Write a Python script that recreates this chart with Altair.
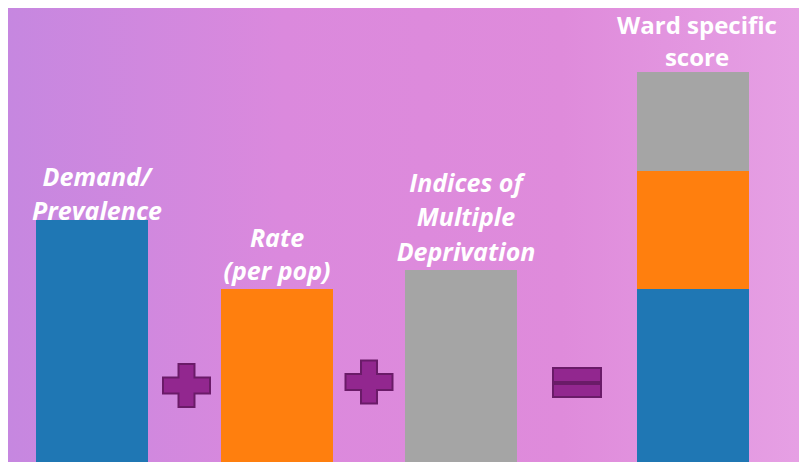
import altair as alt
import pandas as pd

# ---- data (units = pixels of the reference) ----
bar_component = ["Demand", "Rate", "IMD", "Demand", "Rate", "IMD"]
bar_group     = ["g1", "g2", "g3", "g4", "g4", "g4"]
bar_center    = [84, 269, 453, 685, 685, 685]
bar_value     = [242, 173, 192, 173, 118, 99]
bar_order     = [0, 0, 0, 0, 1, 2]

label_lines   = ["Demand/", "Prevalence", "Rate", "(per pop)",
                 "Indices of", "Multiple", "Deprivation"]
label_x       = [89, 89, 269, 269, 458, 458, 458]
label_y       = [276, 242, 215, 182, 270, 236, 201]

title_lines   = ["Ward specific", "score"]
title_x       = [689, 689]
title_y       = [428, 396]

plus_x = [178.5, 361]
plus_y = [76.5, 80]

eq_x  = [545, 545]
eq_x2 = [593, 593]
eq_y  = [94, 78]
eq_y2 = [80, 65]

W, H = 791, 454
comp_domain = ["Demand", "Rate", "IMD"]
comp_range = ["#1F77B4", "#FF7F0E", "#A5A5A5"]

xs = alt.Scale(domain=[0, W], nice=False, zero=False, padding=0)
ys = alt.Scale(domain=[0, H], nice=False, zero=False, padding=0)

bars_df = pd.DataFrame(dict(component=bar_component, group=bar_group, center=bar_center,
                            value=bar_value, order=bar_order))
labels_df = pd.DataFrame(dict(text=label_lines, x=label_x, y=label_y))
titles_df = pd.DataFrame(dict(text=title_lines, x=title_x, y=title_y))
plus_df = pd.DataFrame(dict(x=plus_x, y=plus_y))
eq_df = pd.DataFrame(dict(x=eq_x, x2=eq_x2, y=eq_y, y2=eq_y2))

grad = alt.Gradient(
    gradient="linear",
    stops=[alt.GradientStop(color="#C687E0", offset=0),
           alt.GradientStop(color="#DB89DD", offset=0.35),
           alt.GradientStop(color="#DF8BDB", offset=0.7),
           alt.GradientStop(color="#E6A0E4", offset=1)],
    x1=0, x2=1, y1=0, y2=0)

bg = alt.Chart(pd.DataFrame({"a": [0]})).mark_rect(fill=grad).encode(
    x=alt.value(0), x2=alt.value(W), y=alt.value(0), y2=alt.value(H))

bars = alt.Chart(bars_df).mark_bar(size=112).encode(
    x=alt.X("center:Q", scale=xs, axis=None),
    y=alt.Y("sum(value):Q", scale=ys, axis=None, stack="zero"),
    color=alt.Color("component:N", scale=alt.Scale(domain=comp_domain, range=comp_range), legend=None),
    order=alt.Order("order:Q"),
    detail="group:N",
)

labels = alt.Chart(labels_df).mark_text(
    font="Open Sans", fontSize=25, fontWeight="bold", fontStyle="italic",
    color="white", align="center", baseline="alphabetic").encode(
    x=alt.X("x:Q", scale=xs, axis=None), y=alt.Y("y:Q", scale=ys, axis=None), text="text:N")

titles = alt.Chart(titles_df).mark_text(
    font="Open Sans", fontSize=24, fontWeight="bold",
    color="white", align="center", baseline="alphabetic").encode(
    x=alt.X("x:Q", scale=xs, axis=None), y=alt.Y("y:Q", scale=ys, axis=None), text="text:N")

plus_path = ("M-0.34,-0.915 L0.34,-0.915 L0.34,-0.34 L1,-0.34 L1,0.34 L0.34,0.34 "
             "L0.34,0.915 L-0.34,0.915 L-0.34,0.34 L-1,0.34 L-1,-0.34 L-0.34,-0.34 Z")
plus = alt.Chart(plus_df).mark_point(
    shape=plus_path, size=2209, filled=True, fill="#92278F", stroke="#6A1B68",
    strokeWidth=2, opacity=1).encode(
    x=alt.X("x:Q", scale=xs, axis=None), y=alt.Y("y:Q", scale=ys, axis=None))

eq = alt.Chart(eq_df).mark_rect(fill="#92278F", stroke="#6A1B68", strokeWidth=2).encode(
    x=alt.X("x:Q", scale=xs, axis=None), x2="x2:Q",
    y=alt.Y("y:Q", scale=ys, axis=None), y2="y2:Q")

chart = alt.layer(bg, labels, titles, bars, plus, eq).properties(
    width=W, height=H, padding=0, background="#DE8ADC"
).configure_view(stroke=None)

chart.save("out.html", embed_options={"renderer": "svg", "actions": False})
